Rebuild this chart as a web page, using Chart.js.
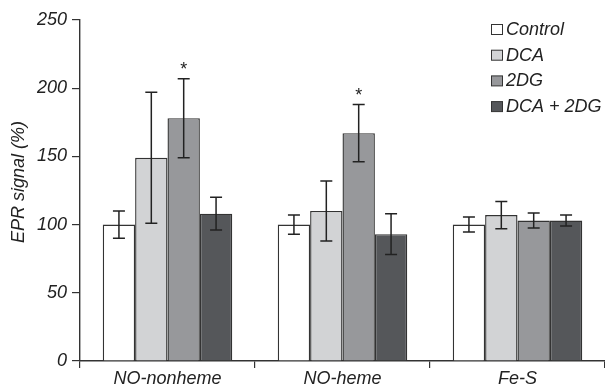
<!DOCTYPE html>
<html>
<head>
<meta charset="utf-8">
<script src="https://cdn.jsdelivr.net/npm/chart.js@4.4.1/dist/chart.umd.min.js"></script>
<style>
html,body{margin:0;padding:0;background:#fff;}
#wrap{width:605px;height:384px;}
</style>
</head>
<body>
<div id="wrap"><canvas id="c" width="605" height="384"></canvas></div>
<script>
const categories = ["NO-nonheme", "NO-heme", "Fe-S"];
const seriesNames = ["Control", "DCA", "2DG", "DCA + 2DG"];
const controlVals = [100, 100, 100];
const dcaVals = [149, 110, 107];
const twoDGVals = [178, 167, 103];
const comboVals = [108, 93, 103];
const controlErr = [10, 7, 5.5];
const dcaErr = [48, 22, 10];
const twoDGErr = [29, 21, 5.5];
const comboErr = [12, 15, 4];
const twoDGSig = [true, true, false];
const yTicks = [0, 50, 100, 150, 200, 250];

const FONT = "'Liberation Sans', Arial, sans-serif";
const colors = ['#ffffff', '#d2d3d5', '#97989b', '#55575a'];
const edge = '#333333';

const values = [controlVals, dcaVals, twoDGVals, comboVals];
const errs = [controlErr, dcaErr, twoDGErr, comboErr];
const sigs = [null, null, twoDGSig, null];

const datasets = seriesNames.map((n, i) => ({
  label: n,
  data: values[i],
  err: errs[i],
  sig: sigs[i],
  backgroundColor: colors[i],
  borderColor: edge,
  borderWidth: 1.4,
  borderSkipped: 'start',
  categoryPercentage: 0.74,
  barPercentage: 1.0
}));

const errorBars = {
  id: 'errorBars',
  afterDatasetsDraw(chart) {
    const ctx = chart.ctx;
    const y = chart.scales.y;
    ctx.save();
    ctx.strokeStyle = '#222';
    ctx.lineWidth = 1.5;
    chart.data.datasets.forEach((ds, di) => {
      const meta = chart.getDatasetMeta(di);
      meta.data.forEach((bar, j) => {
        const v = ds.data[j], e = ds.err[j];
        const yt = y.getPixelForValue(v + e);
        const yb = y.getPixelForValue(v - e);
        const x = bar.x, cw = 6;
        ctx.beginPath();
        ctx.moveTo(x, yt); ctx.lineTo(x, yb);
        ctx.moveTo(x - cw, yt); ctx.lineTo(x + cw, yt);
        ctx.moveTo(x - cw, yb); ctx.lineTo(x + cw, yb);
        ctx.stroke();
        if (ds.sig && ds.sig[j]) {
          ctx.fillStyle = '#222';
          ctx.font = "18px " + FONT;
          ctx.textAlign = 'center';
          ctx.textBaseline = 'middle';
          ctx.fillText('*', x, yt - 9);
        }
      });
    });
    ctx.restore();
  }
};

const customLegend = {
  id: 'customLegend',
  afterDraw(chart) {
    const ctx = chart.ctx;
    ctx.save();
    ctx.font = "italic 18px " + FONT;
    ctx.textBaseline = 'alphabetic';
    ctx.textAlign = 'left';
    chart.data.datasets.forEach((ds, i) => {
      const base = 35 + i * 25.7;
      ctx.fillStyle = ds.backgroundColor;
      ctx.fillRect(491.5, base - 10.5, 11, 10);
      ctx.strokeStyle = edge;
      ctx.lineWidth = 1;
      ctx.strokeRect(491.5, base - 10.5, 11, 10);
      ctx.fillStyle = '#222';
      ctx.fillText(ds.label, 506, base);
    });
    ctx.restore();
  }
};

const yTitle = {
  id: 'yTitle',
  afterDraw(chart) {
    const ctx = chart.ctx;
    ctx.save();
    ctx.translate(24, 182);
    ctx.rotate(-Math.PI / 2);
    ctx.font = "italic 18px " + FONT;
    ctx.fillStyle = '#222';
    ctx.textAlign = 'center';
    ctx.textBaseline = 'alphabetic';
    ctx.fillText('EPR signal (%)', 0, 0);
    ctx.restore();
  }
};

new Chart(document.getElementById('c'), {
  type: 'bar',
  data: { labels: categories, datasets },
  options: {
    responsive: false,
    animation: false,
    layout: { padding: { top: 20, right: 0, left: 0, bottom: 0 } },
    plugins: { legend: { display: false }, tooltip: { enabled: false }, title: { display: false } },
    scales: {
      x: {
        grid: { offset: true, drawOnChartArea: false, drawTicks: true, tickLength: 7, color: edge, lineWidth: 1.2 },
        border: { display: true, color: edge, width: 1.4 },
        ticks: { color: '#222', font: { family: FONT, size: 18, style: 'italic' }, padding: 0, maxRotation: 0 },
        afterFit(s) { s.height = 23; }
      },
      y: {
        min: 0, max: 250,
        afterBuildTicks(s) { s.ticks = yTicks.map(v => ({ value: v })); },
        grid: { drawOnChartArea: false, drawTicks: true, tickLength: 8, color: edge, lineWidth: 1.2 },
        border: { display: true, color: edge, width: 1.4 },
        ticks: { color: '#222', font: { family: FONT, size: 18, style: 'italic' }, padding: 5 },
        afterFit(s) { s.width = 80; }
      }
    }
  },
  plugins: [errorBars, customLegend, yTitle]
});
</script>
</body>
</html>
